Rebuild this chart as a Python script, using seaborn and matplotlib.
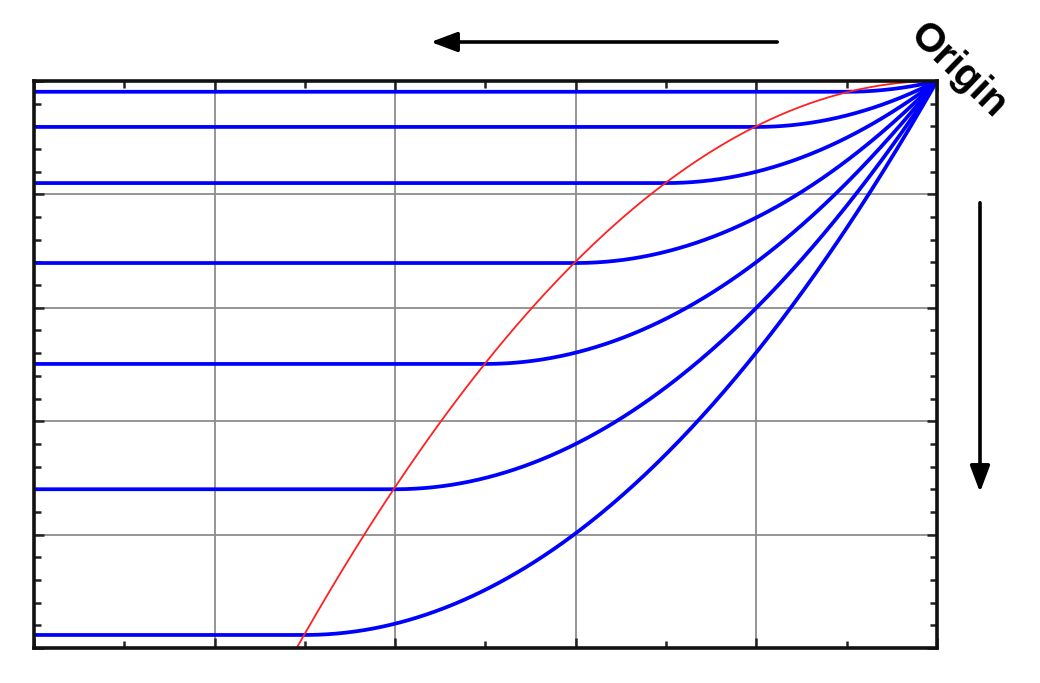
import numpy as np
import pandas as pd
import matplotlib.pyplot as plt
import seaborn as sns
from matplotlib.ticker import MultipleLocator

# gate overdrive steps and saturation levels
vov = [1, 2, 3, 4, 5, 6, 7]
id_sat = [0.19, 0.81, 1.80, 3.21, 4.99, 7.20, 9.77]

vds = np.linspace(0, 10, 401)

rows = []
for v, isat in zip(vov, id_sat):
    u = np.clip(vds / v, 0, 1)
    cur = isat * (2 * u - u ** 2)
    rows.append(pd.DataFrame({"Vds": vds, "Id": cur, "Vov": v}))
df = pd.concat(rows, ignore_index=True)

# locus of the knee points (square law fitted to the knees)
k = np.mean(np.array(id_sat) / np.array(vov) ** 2)
vds_red = np.linspace(0, 7.2, 200)
df_red = pd.DataFrame({"Vds": vds_red, "Id": k * vds_red ** 2})

sns.set_style("ticks")
plt.rcParams['font.family'] = ['Liberation Sans', 'DejaVu Sans']

fig = plt.figure(figsize=(10.4, 6.83), dpi=100)
ax = fig.add_axes([34 / 1040, 1 - 648 / 683, 903 / 1040, 567 / 683])

sns.lineplot(data=df, x="Vds", y="Id", hue="Vov", units="Vov", estimator=None,
             palette=["#0000ff"] * len(vov), sort=False, lw=2.7, legend=False, ax=ax)
sns.lineplot(data=df_red, x="Vds", y="Id", color="#ff2020", lw=1.3, sort=False, ax=ax)

ax.set_xlim(10, 0)
ax.set_ylim(10, 0)
ax.xaxis.set_major_locator(MultipleLocator(2))
ax.xaxis.set_minor_locator(MultipleLocator(1))
ax.yaxis.set_major_locator(MultipleLocator(2))
ax.yaxis.set_minor_locator(MultipleLocator(0.4))
ax.grid(which="major", color="#8c8c8c", lw=1.3)
ax.set_axisbelow(True)
ax.tick_params(which="both", direction="in", top=True, right=True, bottom=True, left=True,
               labelbottom=False, labelleft=False, width=1.8, color="#222222")
ax.tick_params(which="major", length=7)
ax.tick_params(which="minor", length=5)
for s in ax.spines.values():
    s.set_linewidth(2.6)
    s.set_color("#111111")
ax.set_xlabel("")
ax.set_ylabel("")

# direction arrows
ax.annotate("", xy=(428 / 1040, 1 - 42 / 683), xytext=(780 / 1040, 1 - 42 / 683),
            xycoords="figure fraction", textcoords="figure fraction",
            arrowprops=dict(arrowstyle="-|>,head_length=1.6,head_width=0.6", color="black", lw=2.6))
ax.annotate("", xy=(980 / 1040, 1 - 495 / 683), xytext=(980 / 1040, 1 - 200 / 683),
            xycoords="figure fraction", textcoords="figure fraction",
            arrowprops=dict(arrowstyle="-|>,head_length=1.6,head_width=0.6", color="black", lw=2.6))

fig.text(958 / 1040, 1 - 70 / 683, "Origin", rotation=-44, fontsize=29, fontweight="bold",
         color="black", ha="center", va="center", rotation_mode="anchor")

fig.savefig("out.png", dpi=100)
